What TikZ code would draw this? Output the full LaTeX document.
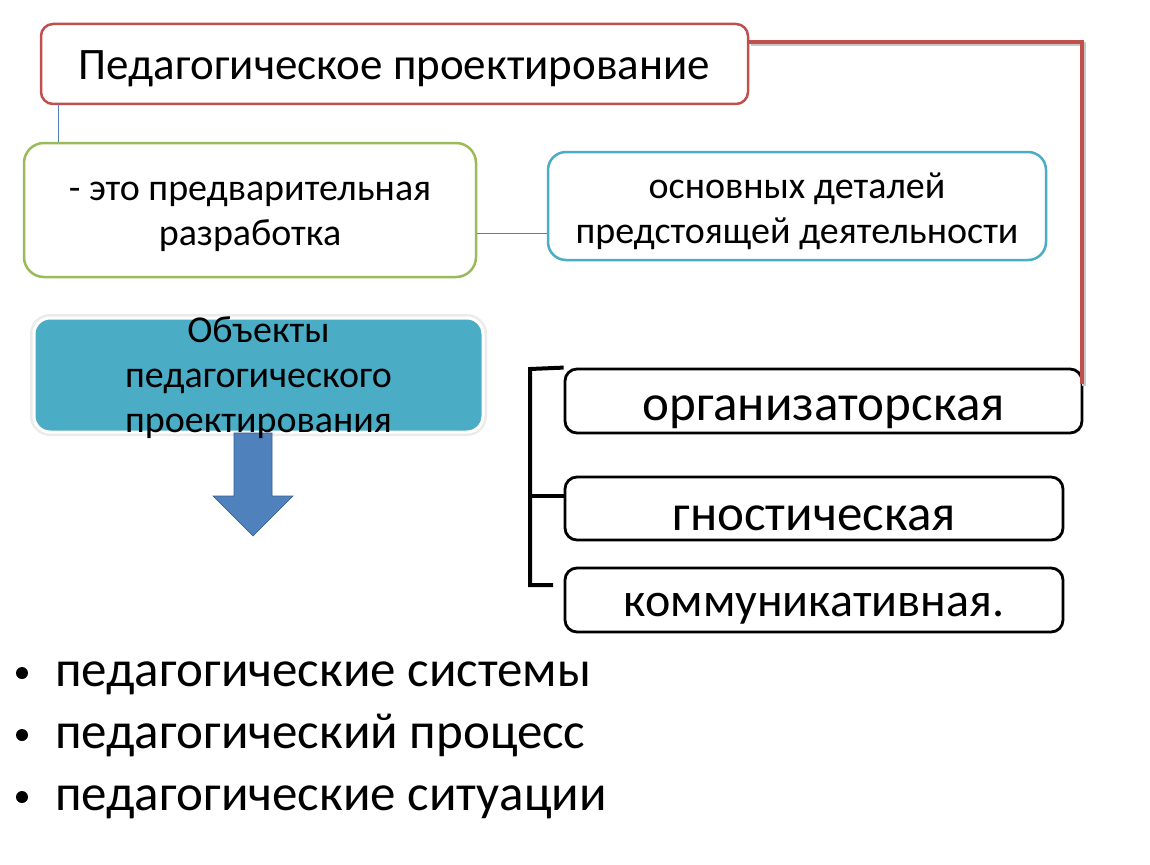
\documentclass[tikz,border=0pt]{standalone}
\usepackage{fontspec}
\setmainfont{Carlito}
\usetikzlibrary{calc}
\lineskiplimit=-100pt
\definecolor{cred}{HTML}{C0504D}
\definecolor{cgreen}{HTML}{9BBB59}
\definecolor{cteal}{HTML}{4BACC6}
\definecolor{cblue}{HTML}{4F81BD}
\definecolor{cbluedk}{HTML}{385D8A}
\tikzset{
  box/.style={rectangle, rounded corners=12pt, inner sep=0pt},
  titlebox/.style={box, draw=cred, line width=2.5pt, fill=white},
  greenbox/.style={box, draw=cgreen, line width=2.5pt, rounded corners=20pt, fill=white},
  tealbox/.style={box, draw=cteal, line width=2.5pt, rounded corners=18pt, fill=white},
  blackbox/.style={box, draw=black, line width=2.8pt, rounded corners=12pt, fill=white},
  objbox/.style={box, fill=cteal, draw=white, line width=3pt, rounded corners=16pt},
  label/.style={inner sep=0pt, align=center, text=black},
  thinlink/.style={draw=cblue, line width=0.8pt},
  redlink/.style={draw=cred, line width=4pt},
  bracket/.style={draw=black, line width=4pt},
  bullettext/.style={anchor=base west, inner sep=0pt, font=\fontsize{51}{60}\selectfont},
  bulletdot/.style={circle, fill=black, inner sep=0pt, minimum size=12pt},
}
\begin{document}
\begin{tikzpicture}[x=1pt, y=-1pt]
\useasboundingbox (0,0) rectangle (1150,864);

% upper boxes
\node[titlebox, minimum width=707pt, minimum height=80pt] (title) at (394.5,64) {};
\node[label, font=\fontsize{45}{54}\selectfont] (titletext) at ([yshift=-5pt]title.center) {Педагогическое проектирование};
\node[greenbox, minimum width=452pt, minimum height=134pt] (def) at (250,210) {};
\node[label, font=\fontsize{38}{45}\selectfont] (deftext) at ([yshift=-7pt]def.center) {- это предварительная\\разработка};
\node[tealbox, minimum width=498pt, minimum height=108pt] (det) at (797,206) {};
\node[label, font=\fontsize{38}{45}\selectfont] (dettext) at ([yshift=-5pt]det.center) {основных деталей\\предстоящей деятельности};

\draw[thinlink] ([xshift=19pt]title.south west) -- ([xshift=19pt]title.south west |- def.north);
\draw[thinlink] ([yshift=-23pt]def.east) -- ([yshift=-23pt]def.east -| det.west);

% objects box
\node[box, draw=black!8, line width=8pt, rounded corners=16pt, minimum width=449pt, minimum height=114pt] (objglow) at (258.5,375) {};
\node[objbox, minimum width=449pt, minimum height=114pt] (obj) at (258.5,375) {};

% arrow
\path[fill=cblue, draw=cbluedk, line width=0.6pt]
  (234,433) -- (272,433) -- (272,496) -- (293,496) -- (253,536) -- (213,496) -- (234,496) -- cycle;

\node[label, font=\fontsize{38}{45}\selectfont] (objtext) at ([yshift=-3pt]obj.center) {Объекты\\педагогического\\проектирования};

% function boxes
\node[blackbox, minimum width=517pt, minimum height=64pt] (org) at (823.5,401) {};
\node[label, font=\fontsize{51}{60}\selectfont] (orgtext) at ([yshift=-11pt]org.center) {организаторская};
\node[blackbox, minimum width=498pt, minimum height=63pt] (gno) at (814,508.5) {};
\node[label, font=\fontsize{51}{60}\selectfont] (gnotext) at ([yshift=-10pt]gno.center) {гностическая};
\node[blackbox, minimum width=498pt, minimum height=64pt] (com) at (814,600) {};
\node[label, font=\fontsize{48}{56}\selectfont] (comtext) at ([yshift=-9pt]com.center) {коммуникативная.};

% red connector
\draw[draw=black!22, line width=4pt] ([xshift=2pt,yshift=20pt]title.east) -| ([xshift=1pt,yshift=-18pt]org.north east);
\draw[redlink] ([yshift=22pt]title.east) -| ([xshift=-1pt,yshift=-16pt]org.north east);

% bracket
\coordinate (bend) at (553,585);
\draw[bracket] (org.north west) -- (530,369) -- (530,585) -- (bend);
\draw[bracket] (530,496) -- ([yshift=12.5pt]gno.west);

% bullets
\node[bulletdot] (b1) at (22,673) {};
\node[bullettext] (t1) at (55,686) {педагогические системы};
\node[bulletdot] (b2) at (22,735) {};
\node[bullettext] (t2) at (55,748) {педагогический процесс};
\node[bulletdot] (b3) at (22,797) {};
\node[bullettext] (t3) at (55,810) {педагогические ситуации};
\end{tikzpicture}
\end{document}
